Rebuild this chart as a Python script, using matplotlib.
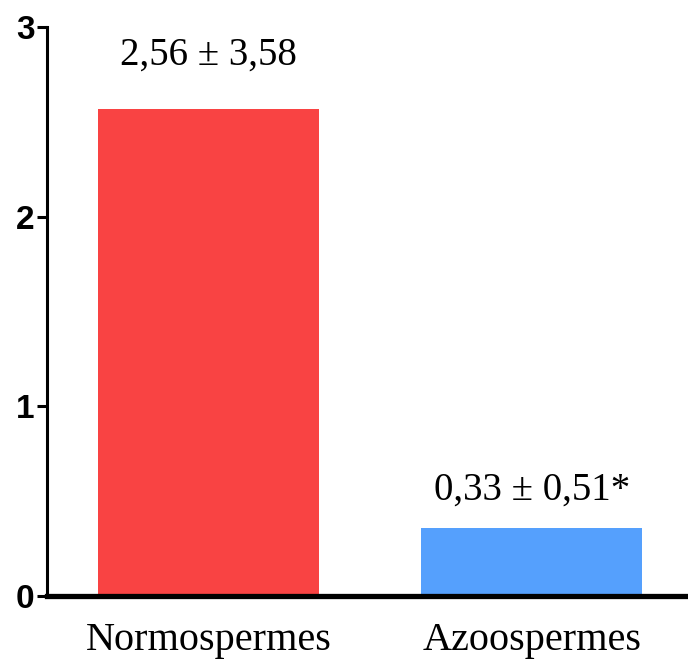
import numpy as np
import matplotlib.pyplot as plt

categories = ["Normospermes", "Azoospermes"]
values = [2.57, 0.36]
bar_labels = ["2,56 \u00b1 3,58", "0,33 \u00b1 0,51*"]
bar_colors = ["#F94343", "#55A0FD"]
label_offsets = [53, 38]  # pixels above bar top

fig = plt.figure(figsize=(6.88, 6.66), dpi=100)
ax = fig.add_axes([47 / 688, 70 / 666, 641 / 688, 569 / 666])

x = np.arange(len(categories))
ax.bar(x, values, width=0.684, color=bar_colors, zorder=2)

for xi, v, lab, off in zip(x, values, bar_labels, label_offsets):
    ax.annotate(lab, (xi, v), xytext=(0, off * 0.72), textcoords="offset points",
                ha="center", va="center", fontsize=28, family="Liberation Serif")

ax.set_xlim(-0.5, 1.484)
ax.set_ylim(0, 3)
ax.set_yticks([0, 1, 2, 3])
ax.set_xticks(x)
ax.set_xticklabels(categories, family="Liberation Serif", fontsize=29)
for t in ax.get_yticklabels():
    t.set_family("Liberation Sans")
    t.set_fontweight("bold")
    t.set_fontsize(24)

ax.spines["top"].set_visible(False)
ax.spines["right"].set_visible(False)
ax.spines["left"].set_linewidth(2.2)
ax.spines["bottom"].set_linewidth(3.8)
ax.tick_params(axis="y", direction="out", length=7, width=2.2, pad=2)
ax.tick_params(axis="x", length=0, pad=19)

fig.savefig("out.png", dpi=100)
